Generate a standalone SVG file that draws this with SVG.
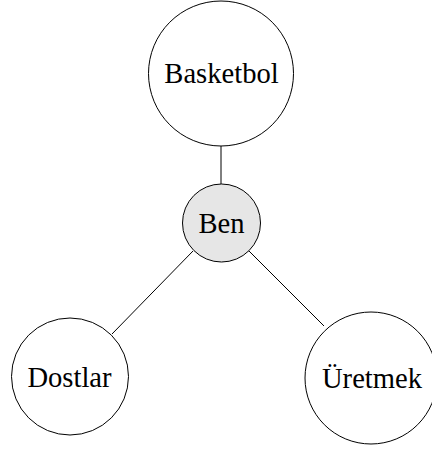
<svg xmlns="http://www.w3.org/2000/svg" width="432" height="450" viewBox="0 0 432 450">
<style>
.node{fill:#fff;stroke:#000;stroke-width:1}
.center{fill:#e6e6e6;stroke:#000;stroke-width:1}
.lbl{font-family:"Liberation Serif","Times New Roman",serif;font-size:28.6px;text-anchor:middle;fill:#000}
.edge{stroke:#000;stroke-width:1;fill:none}
</style>
<rect width="432" height="450" fill="#fff"/>
<g id="edges">
<line class="edge" x1="221" y1="146" x2="221" y2="184"/>
<line class="edge" x1="193" y1="251" x2="112" y2="334"/>
<line class="edge" x1="249" y1="251" x2="324" y2="326"/>
</g>
<g id="basketbol"><circle class="node" cx="221" cy="73.5" r="72.5"/><text class="lbl" x="221.5" y="82.8">Basketbol</text></g>
<g id="ben"><circle class="center" cx="221.5" cy="223" r="39"/><text class="lbl" x="221.5" y="233.4">Ben</text></g>
<g id="dostlar"><circle class="node" cx="70" cy="376.5" r="58.5"/><text class="lbl" x="69.5" y="387.4">Dostlar</text></g>
<g id="uretmek"><circle class="node" cx="371" cy="378" r="66"/><text class="lbl" x="372" y="387.7">Üretmek</text></g>
</svg>
